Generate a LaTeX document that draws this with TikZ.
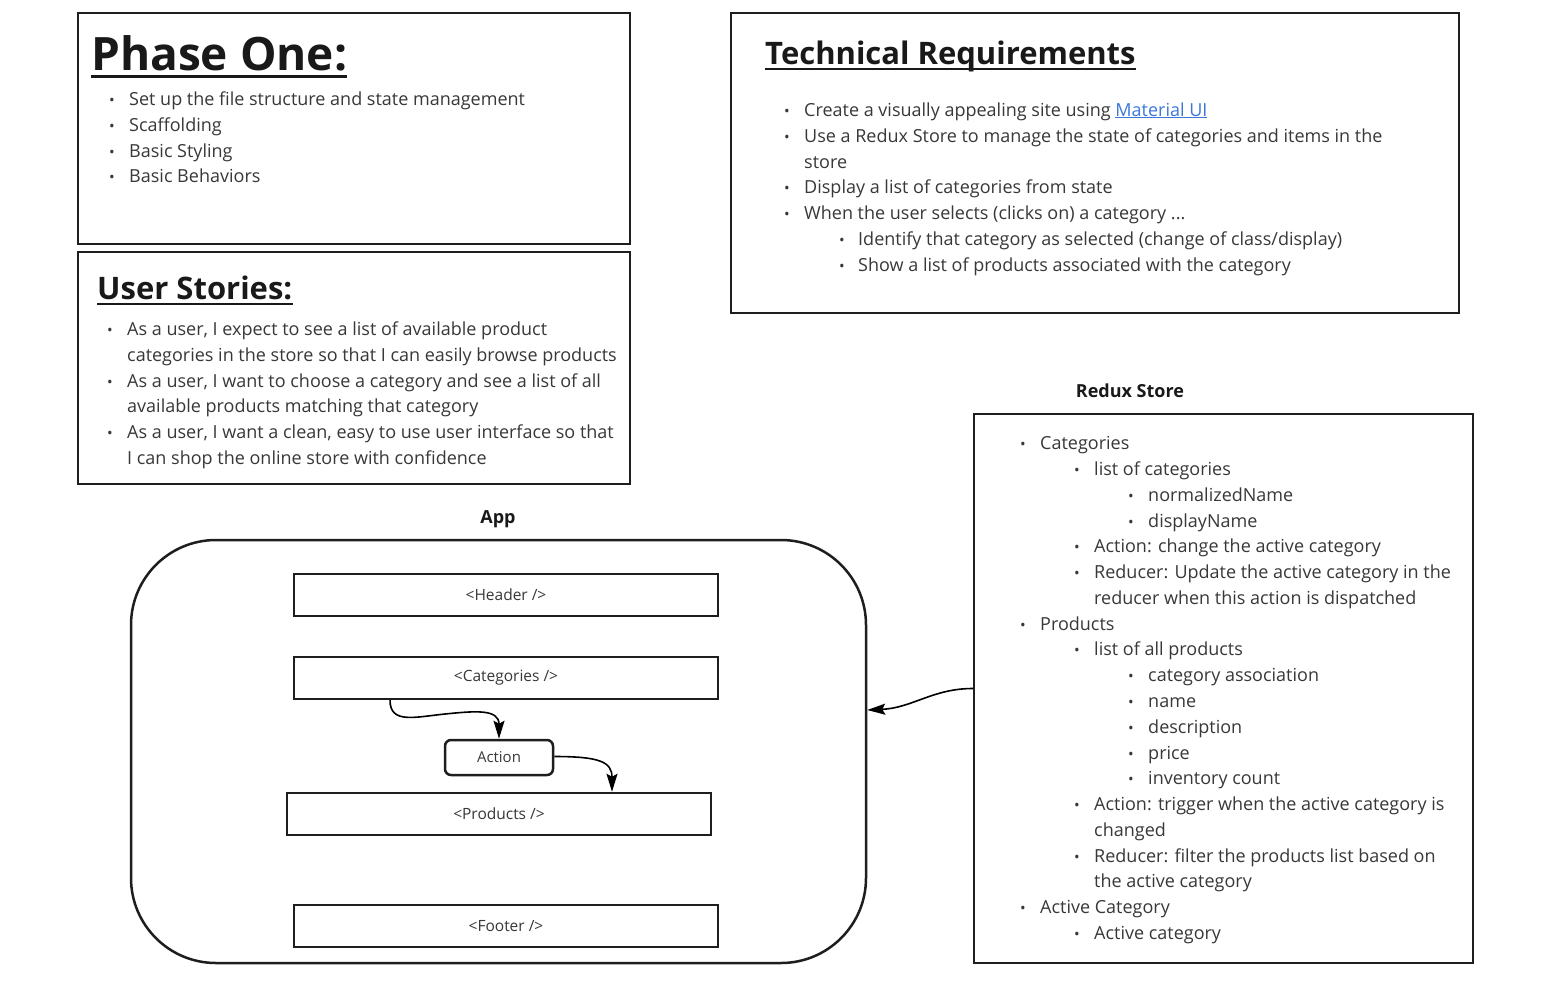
\documentclass[tikz,border=0pt]{standalone}
\usepackage{fontspec}
\setmainfont{Open Sans}
\usetikzlibrary{arrows.meta}
\definecolor{txtgray}{HTML}{383838}
\definecolor{linegray}{HTML}{1E1E1E}
\definecolor{linkblue}{HTML}{3B78D8}
\newcommand\bodyfont{\fontsize{18}{26}\selectfont}
\newcommand\smallfont{\fontsize{15.5}{18}\selectfont}
\newcommand\dotfont{\fontsize{15}{15}\selectfont}
% \myli{name}{xbullet}{xtext}{ycenter}{text}
\newcommand\myli[5]{%
  \node[dotnode] (#1-b) at (#2,#4+7) {•};
  \node[txtnode] (#1) at (#3,#4+7) {#5};}
\newcommand\mycont[4]{%
  \node[txtnode] (#1) at (#2,#3+7) {#4};}
\newcommand\linkul[1]{\underline{#1}}
\begin{document}
\begin{tikzpicture}[x=1pt,y=-1pt,
  txtnode/.style={anchor=base west,inner sep=0pt,font=\bodyfont,text=txtgray},
  dotnode/.style={anchor=base,inner sep=0pt,font=\dotfont,text=txtgray},
  boxnode/.style={draw=linegray,line width=2.5pt,inner sep=0pt},
  compnode/.style={draw=linegray,line width=2.5pt,inner sep=0pt,minimum width=424pt,minimum height=42pt,font=\smallfont,text=txtgray},
  titlenode/.style={anchor=base west,inner sep=0pt,font=\bfseries,text=black!90},
  labelnode/.style={inner sep=0pt,font=\bodyfont\bfseries,text=black!90},
  arr/.style={line width=1.6pt,draw=black,-{Stealth[length=18pt,width=11pt,inset=3pt]}}]
\useasboundingbox (0,0) rectangle (1568,996);
\fill[white] (0,0) rectangle (1568,996);

% ---------- Phase One ----------
\node[boxnode,minimum width=552pt,minimum height=231pt] (phase) at (354,128.5) {};
\node[titlenode,font=\fontsize{46}{50}\selectfont\bfseries] (phaset) at (91,70) {Phase One:};
\draw[line width=3pt,black!90] ([yshift=-6pt]phaset.base west) -- ([yshift=-6pt]phaset.base east);
\myli{p1}{112}{129}{98}{Set up the file structure and state management}
\myli{p2}{112}{129}{124}{Scaffolding}
\myli{p3}{112}{129}{150}{Basic Styling}
\myli{p4}{112}{129}{175}{Basic Behaviors}

% ---------- User Stories ----------
\node[boxnode,minimum width=552pt,minimum height=232pt] (user) at (354,368) {};
\node[titlenode,font=\fontsize{31}{34}\selectfont\bfseries] (usert) at (97,299) {User Stories:};
\draw[line width=2.5pt,black!90] ([yshift=-5pt]usert.base west) -- ([yshift=-5pt]usert.base east);
\myli{u1}{110}{127}{328}{As a user, I expect to see a list of available product}
\mycont{u1b}{127}{354}{categories in the store so that I can easily browse products}
\myli{u2}{110}{127}{380}{As a user, I want to choose a category and see a list of all}
\mycont{u2b}{127}{405}{available products matching that category}
\myli{u3}{110}{127}{431}{As a user, I want a clean, easy to use user interface so that}
\mycont{u3b}{127}{457}{I can shop the online store with confidence}

% ---------- Technical Requirements ----------
\node[boxnode,minimum width=728pt,minimum height=300pt] (tech) at (1095,163) {};
\node[titlenode,font=\fontsize{31}{34}\selectfont\bfseries] (techt) at (765,64) {Technical Requirements};
\draw[line width=2.5pt,black!90] ([yshift=-5pt]techt.base west) -- ([yshift=-5pt]techt.base east);
\myli{t1}{787}{804}{109}{Create a visually appealing site using \textcolor{linkblue}{\linkul{Material UI}}}
\myli{t2}{787}{804}{135}{Use a Redux Store to manage the state of categories and items in the}
\mycont{t2b}{804}{161}{store}
\myli{t3}{787}{804}{186}{Display a list of categories from state}
\myli{t4}{787}{804}{212}{When the user selects (clicks on) a category ...}
\myli{t5}{842}{858}{238}{Identify that category as selected (change of class/display)}
\myli{t6}{842}{858}{264}{Show a list of products associated with the category}

% ---------- Redux Store ----------
\node[labelnode] (reduxl) at (1130,391) {Redux Store};
\node[boxnode,minimum width=499pt,minimum height=549pt] (redux) at (1223.5,688.5) {};
\myli{r1}{1023}{1040}{442}{Categories}
\myli{r2}{1077}{1094}{468}{list of categories}
\myli{r3}{1131}{1148}{494}{normalizedName}
\myli{r4}{1131}{1148}{520}{displayName}
\myli{r5}{1077}{1094}{545}{Action: change the active category}
\myli{r6}{1077}{1094}{571}{Reducer: Update the active category in the}
\mycont{r6b}{1094}{597}{reducer when this action is dispatched}
\myli{r7}{1023}{1040}{623}{Products}
\myli{r8}{1077}{1094}{648}{list of all products}
\myli{r9}{1131}{1148}{674}{category association}
\myli{r10}{1131}{1148}{700}{name}
\myli{r11}{1131}{1148}{726}{description}
\myli{r12}{1131}{1148}{752}{price}
\myli{r13}{1131}{1148}{777}{inventory count}
\myli{r14}{1077}{1094}{803}{Action: trigger when the active category is}
\mycont{r14b}{1094}{829}{changed}
\myli{r15}{1077}{1094}{855}{Reducer: filter the products list based on}
\mycont{r15b}{1094}{880}{the active category}
\myli{r16}{1023}{1040}{906}{Active Category}
\myli{r17}{1077}{1094}{932}{Active category}

% ---------- App ----------
\node[labelnode] (appl) at (498,519) {App};
\node[boxnode,rounded corners=85pt,minimum width=735pt,minimum height=423pt] (app) at (498.5,751.5) {};
\node[compnode] (header) at (506,595) {<Header />};
\node[compnode] (cat) at (506,678) {<Categories />};
\node[boxnode,rounded corners=6pt,minimum width=108pt,minimum height=35pt,font=\fontsize{15}{18}\selectfont,text=txtgray] (action) at (499,757.5) {Action};
\node[compnode] (prod) at (499,814) {<Products />};
\node[compnode] (footer) at (506,926) {<Footer />};

% ---------- connectors ----------
\draw[arr] ([xshift=-116pt]cat.south) .. controls +(0,24) and +(-30,3) .. (445,714) .. controls +(30,-3) and +(0,-30) .. (action.north);
\draw[arr] ([yshift=1pt]action.east) .. controls +(45,0) and +(0,-30) .. ([xshift=113pt]prod.north);
\draw[arr] (redux.west) .. controls +(-40,0) and +(45,-2) .. ([yshift=41.5pt]app.east);
\end{tikzpicture}
\end{document}
